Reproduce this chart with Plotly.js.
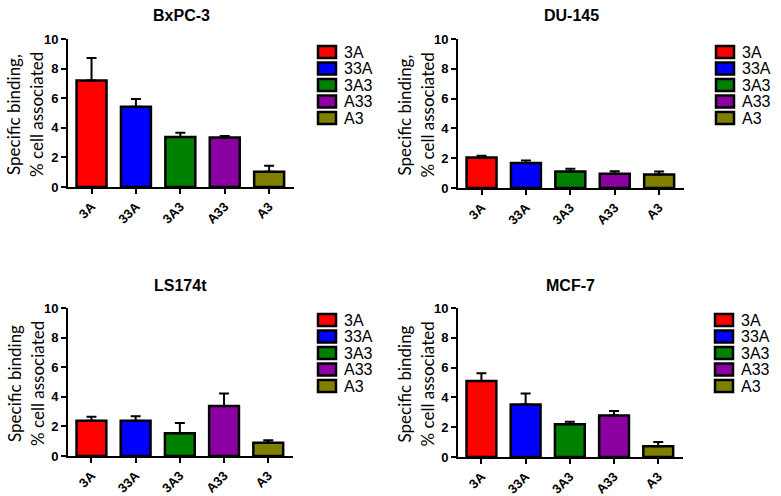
<!DOCTYPE html>
<html>
<head>
<meta charset="utf-8">
<script src="https://cdn.plot.ly/plotly-3.0.1.min.js"></script>
<style>
  body { margin: 0; background: #fff; }
  #chart { width: 781px; height: 496px; }
</style>
</head>
<body>
<div id="chart"></div>
<script>
// peptide variants, same on all four panels
const categories = ['3A', '33A', '3A3', 'A33', 'A3'];
const barColors = ['#ff0000', '#0000ff', '#008000', '#8a00a0', '#808000'];

// specific binding, % cell associated (mean + SD)
const bxpc3Values = [7.2, 5.43, 3.38, 3.35, 1.03];
const bxpc3Errors = [1.52, 0.52, 0.29, 0.09, 0.41];
const du145Values = [2.05, 1.68, 1.11, 0.96, 0.91];
const du145Errors = [0.12, 0.17, 0.19, 0.17, 0.2];
const ls174tValues = [2.38, 2.38, 1.53, 3.37, 0.9];
const ls174tErrors = [0.27, 0.3, 0.7, 0.85, 0.16];
const mcf7Values = [5.1, 3.53, 2.2, 2.79, 0.72];
const mcf7Errors = [0.52, 0.74, 0.16, 0.29, 0.29];

const W = 781, H = 496;
function px(x) { return x / W; }
function py(y) { return 1 - y / H; }

// panel boxes in pixels
const panels = [
  { name: 'BxPC-3', ytitle: ['Specific binding,', '% cell associated'], vals: bxpc3Values, errs: bxpc3Errors,
    l: 68, r: 294, t: 39, b: 187, titleY: 15, ytX: 14, legX: 318, legY: 52 },
  { name: 'DU-145', ytitle: ['Specific binding,', '% cell associated'], vals: du145Values, errs: du145Errors,
    l: 458, r: 684, t: 39, b: 188, titleY: 15, ytX: 404, legX: 716, legY: 52 },
  { name: 'LS174t', ytitle: ['Specific binding', '% cell associated'], vals: ls174tValues, errs: ls174tErrors,
    l: 68, r: 293, t: 308, b: 456, titleY: 285, ytX: 14, legX: 318, legY: 320 },
  { name: 'MCF-7', ytitle: ['Specific binding', '% cell associated'], vals: mcf7Values, errs: mcf7Errors,
    l: 458, r: 683, t: 308, b: 457, titleY: 285, ytX: 404, legX: 715, legY: 320 }
];

const tickFont = { family: 'Arial, "Liberation Sans", sans-serif', size: 13, color: '#000', weight: 'bold' };

const traces = [];
const layout = {
  width: W, height: H,
  margin: { t: 0, l: 0, r: 0, b: 0 },
  paper_bgcolor: 'white',
  plot_bgcolor: 'white',
  showlegend: false,
  barmode: 'group',
  annotations: [],
  shapes: []
};

panels.forEach(function (p, i) {
  const n = i === 0 ? '' : String(i + 1);
  traces.push({
    type: 'bar',
    x: categories,
    y: p.vals,
    width: 0.675,
    xaxis: 'x' + n,
    yaxis: 'y' + n,
    marker: { color: barColors, line: { color: '#000', width: 2.5 } },
    error_y: { type: 'data', symmetric: false, array: p.errs, arrayminus: p.errs.map(function () { return 0; }),
               color: '#000', thickness: 2, width: 5 },
    hoverinfo: 'x+y'
  });

  layout['xaxis' + n] = {
    domain: [px(p.l), px(p.r)],
    anchor: 'y' + n,
    type: 'category',
    range: [-0.53, 4.56],
    showline: true, linecolor: '#000', linewidth: 2,
    ticks: 'outside', ticklen: 5, tickwidth: 2, tickcolor: '#000',
    tickangle: -45,
    tickfont: tickFont,
    showgrid: false, zeroline: false, fixedrange: true
  };
  layout['yaxis' + n] = {
    domain: [py(p.b), py(p.t)],
    anchor: 'x' + n,
    range: [0, 10],
    dtick: 2,
    showline: true, linecolor: '#000', linewidth: 2,
    ticks: 'outside', ticklen: 5, tickwidth: 2, tickcolor: '#000',
    tickfont: tickFont,
    showgrid: false, zeroline: false, fixedrange: true
  };

  // panel title
  layout.annotations.push({
    text: p.name, xref: 'paper', yref: 'paper',
    x: px((p.l + p.r) / 2), y: py(p.titleY), xanchor: 'center', yanchor: 'middle',
    showarrow: false,
    font: { family: 'Arial, "Liberation Sans", sans-serif', size: 16, color: '#000', weight: 'bold' }
  });
  // y axis title, two lines
  p.ytitle.forEach(function (line, k) {
    layout.annotations.push({
      text: line, xref: 'paper', yref: 'paper',
      x: px(p.ytX + k * 23), y: py((p.t + p.b) / 2 + 2), xanchor: 'center', yanchor: 'middle',
      textangle: -90, showarrow: false,
      font: { family: 'Lato, "Open Sans", sans-serif', size: 17, color: '#000' }
    });
  });

  // legend: swatch + label per category
  categories.forEach(function (c, k) {
    const cy = p.legY + k * 16.5;
    layout.shapes.push({
      type: 'rect', xref: 'paper', yref: 'paper',
      x0: px(p.legX), x1: px(p.legX + 18), y0: py(cy - 6), y1: py(cy + 6),
      fillcolor: barColors[k], line: { color: '#000', width: 2.5 }
    });
    layout.annotations.push({
      text: c, xref: 'paper', yref: 'paper',
      x: px(p.legX + 24), y: py(cy), xanchor: 'left', yanchor: 'middle',
      showarrow: false,
      font: { family: 'Arial, "Liberation Sans", sans-serif', size: 16, color: '#000' }
    });
  });
});

Plotly.newPlot('chart', traces, layout, { displayModeBar: false, staticPlot: true });
</script>
</body>
</html>
